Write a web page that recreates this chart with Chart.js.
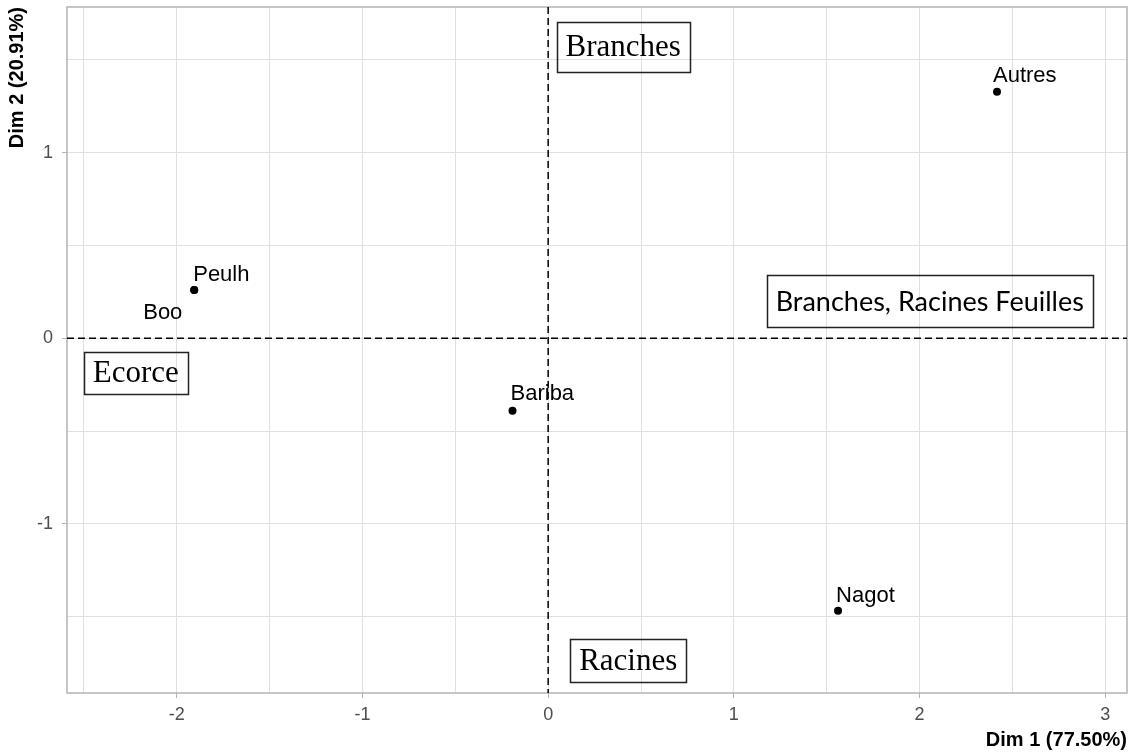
<!DOCTYPE html>
<html>
<head>
<meta charset="utf-8">
<script src="https://cdn.jsdelivr.net/npm/chart.js@4/dist/chart.umd.min.js"></script>
<style>
  html, body { margin: 0; padding: 0; background: #ffffff; }
  #wrap { width: 1132px; height: 756px; position: relative; }
</style>
</head>
<body>
<div id="wrap"><canvas id="pca"></canvas></div>
<script>
// Individuals projected on the first factorial plane
const categories = ['Autres', 'Peulh', 'Boo', 'Bariba', 'Nagot'];
const dim1 = [2.417, -1.906, -1.906, -0.192, 1.561];
const dim2 = [1.329, 0.260, 0.260, -0.390, -1.468];

// Axis ranges and labelled ticks
const xRange = [-2.591, 3.117];
const yRange = [-1.911, 1.785];
const xTickLabels = [-2, -1, 0, 1, 2, 3];
const yTickLabels = [-1, 0, 1];

// Boxed zone names, anchored (centre) in plane coordinates
const zoneNames = ['Branches', 'Ecorce', 'Racines', 'Branches, Racines Feuilles'];
const zoneDim1 = [0.404, -2.221, 0.431, 2.055];
const zoneDim2 = [1.570, -0.187, -1.736, 0.201];

// Label placement relative to each point (pixels: left edge, baseline)
const labelNudge = {
  Autres: [-4, -10],
  Peulh: [-1, -9],
  Boo: [-51, 29],
  Bariba: [-2, -11],
  Nagot: [-2, -9]
};
const zoneStyle = [
  { font: '31px "Liberation Serif"', h: 50 },
  { font: '31px "Liberation Serif"', h: 42 },
  { font: '31px "Liberation Serif"', h: 43 },
  { font: '27px Lato', h: 52 }
];

const points = categories.map((c, i) => ({ x: dim1[i], y: dim2[i], label: c }));

const halfSteps = (lo, hi) => {
  const out = [];
  for (let v = Math.ceil(lo * 2) / 2; v <= hi + 1e-9; v += 0.5) out.push({ value: Math.round(v * 2) / 2 });
  return out;
};
const isWhole = v => Math.abs(v - Math.round(v)) < 1e-9;

const planePlugin = {
  id: 'plane',
  beforeDatasetsDraw(chart) {
    const { ctx, chartArea: a, scales: { x, y } } = chart;
    ctx.save();
    // panel border
    ctx.strokeStyle = '#b3b3b3';
    ctx.lineWidth = 1.5;
    ctx.strokeRect(a.left, a.top, a.right - a.left, a.bottom - a.top);
    // dashed origin lines
    ctx.strokeStyle = '#000000';
    ctx.lineWidth = 1.5;
    ctx.setLineDash([7, 4]);
    const x0 = x.getPixelForValue(0), y0 = y.getPixelForValue(0);
    ctx.beginPath();
    ctx.moveTo(a.left, y0); ctx.lineTo(a.right, y0);
    ctx.moveTo(x0, a.top); ctx.lineTo(x0, a.bottom);
    ctx.stroke();
    ctx.restore();
  },
  afterDatasetsDraw(chart) {
    const { ctx, scales: { x, y } } = chart;
    ctx.save();
    // point labels
    ctx.fillStyle = '#000000';
    ctx.font = '22px "Liberation Sans"';
    ctx.textAlign = 'left';
    ctx.textBaseline = 'alphabetic';
    points.forEach(p => {
      const n = labelNudge[p.label] || [4, -8];
      ctx.fillText(p.label, x.getPixelForValue(p.x) + n[0], y.getPixelForValue(p.y) + n[1]);
    });
    // zone boxes
    zoneNames.forEach((name, i) => {
      const st = zoneStyle[i];
      ctx.font = st.font;
      const w = ctx.measureText(name).width + 18;
      const cx = x.getPixelForValue(zoneDim1[i]);
      const cy = y.getPixelForValue(zoneDim2[i]);
      ctx.strokeStyle = '#222222';
      ctx.lineWidth = 1.5;
      ctx.strokeRect(Math.round(cx - w / 2) + 0.5, Math.round(cy - st.h / 2) + 0.5, Math.round(w), st.h);
      ctx.fillStyle = '#000000';
      ctx.textAlign = 'center';
      ctx.textBaseline = 'middle';
      ctx.fillText(name, cx, cy + 1);
    });
    ctx.restore();
  }
};

const gridColor = '#e0e0e0';

new Chart(document.getElementById('pca'), {
  type: 'scatter',
  data: {
    datasets: [{
      data: points,
      pointRadius: 4,
      pointHoverRadius: 4,
      pointBackgroundColor: '#000000',
      pointBorderWidth: 0
    }]
  },
  options: {
    responsive: true,
    maintainAspectRatio: false,
    animation: false,
    events: [],
    layout: { padding: { top: 7, right: 5, left: 0, bottom: 0 } },
    plugins: { legend: { display: false }, tooltip: { enabled: false } },
    scales: {
      x: {
        type: 'linear',
        min: xRange[0],
        max: xRange[1],
        afterBuildTicks: s => { s.ticks = halfSteps(xRange[0], xRange[1]); },
        afterFit: s => { s.height = 63; s.paddingLeft = 0; s.paddingRight = 0; },
        border: { display: false },
        grid: {
          color: gridColor,
          lineWidth: 1,
          tickLength: 5,
          tickColor: c => (isWhole(c.tick.value) && xTickLabels.includes(Math.round(c.tick.value))) ? '#b3b3b3' : 'rgba(0,0,0,0)'
        },
        ticks: {
          autoSkip: false,
          maxRotation: 0,
          padding: 6,
          color: '#4d4d4d',
          font: { family: '"Liberation Sans"', size: 18 },
          callback: v => (isWhole(v) && xTickLabels.includes(Math.round(v))) ? String(Math.round(v)) : ''
        },
        title: {
          display: true,
          text: 'Dim 1 (77.50%)',
          align: 'end',
          color: '#000000',
          font: { family: '"Liberation Sans"', size: 20, weight: 'bold', lineHeight: 1.2 },
          padding: { top: 0, bottom: 4 }
        }
      },
      y: {
        type: 'linear',
        min: yRange[0],
        max: yRange[1],
        afterBuildTicks: s => { s.ticks = halfSteps(yRange[0], yRange[1]); },
        afterFit: s => { s.width = 67; s.paddingTop = 0; s.paddingBottom = 0; },
        border: { display: false },
        grid: {
          color: gridColor,
          lineWidth: 1,
          tickLength: 5,
          tickColor: c => (isWhole(c.tick.value) && yTickLabels.includes(Math.round(c.tick.value))) ? '#b3b3b3' : 'rgba(0,0,0,0)'
        },
        ticks: {
          autoSkip: false,
          padding: 9,
          color: '#4d4d4d',
          font: { family: '"Liberation Sans"', size: 18 },
          callback: v => (isWhole(v) && yTickLabels.includes(Math.round(v))) ? String(Math.round(v)) : ''
        },
        title: {
          display: true,
          text: 'Dim 2 (20.91%)',
          align: 'end',
          color: '#000000',
          font: { family: '"Liberation Sans"', size: 20, weight: 'bold', lineHeight: 1.2 },
          padding: { top: 5, bottom: 0 }
        }
      }
    }
  },
  plugins: [planePlugin]
});
</script>
</body>
</html>
